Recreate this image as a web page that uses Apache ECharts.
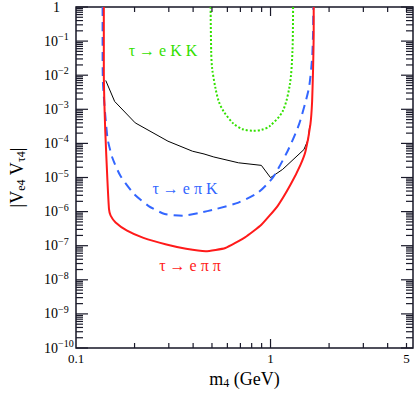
<!DOCTYPE html>
<html><head><meta charset="utf-8">
<script src="https://cdn.jsdelivr.net/npm/echarts@6/dist/echarts.min.js"></script>
<style>html,body{margin:0;padding:0;background:#fff}#c{width:415px;height:399px}</style>
</head><body><div id="c"></div>
<script>
// tau -> e pi pi (red, solid)
const eppM = [0.139,0.139,0.1414,0.1451,0.1478,0.1507,0.1598,0.183,0.2222,0.2915,0.368,0.464,0.586,0.739,0.897,1.089,1.27,1.427,1.513,1.603,1.636,1.655,1.667,1.667];
const eppV = [1,0.0127,2.27e-4,7.9e-6,1.18e-6,7.6e-7,4.8e-7,2.75e-7,1.69e-7,1.08e-7,8.1e-8,6.9e-8,8.6e-8,1.76e-7,4.1e-7,1.48e-6,6.3e-6,2.4e-5,5.9e-5,3.6e-4,1.7e-3,0.016,0.15,1];
// tau -> e pi K (blue, dashed)
const epkM = [0.137,0.137,0.1375,0.1451,0.1538,0.1694,0.1977,0.2353,0.2858,0.3537,0.4294,0.5214,0.684,0.863,1.027,1.223,1.401,1.574,1.636,1.655,1.66];
const epkV = [1,0.078,6.5e-3,1.45e-4,3.8e-5,1.1e-5,3.4e-6,1.48e-6,8.5e-7,7.6e-7,9.1e-7,1.18e-6,1.84e-6,3.6e-6,9.9e-6,5.9e-5,3.6e-4,4.1e-3,0.031,0.187,1];
// tau -> e K K (green, dotted)
const ekkM = [0.492,0.4955,0.501,0.5214,0.542,0.574,0.645,0.72,0.814,0.9,0.989,1.154,1.256,1.296,1.306];
const ekkV = [1,0.0488,0.0159,4.1e-3,1.7e-3,8.7e-4,3.8e-4,2.6e-4,2.35e-4,2.5e-4,3.2e-4,8.7e-4,5.2e-3,0.0488,1];
// black thin line
const blkM = [0.1422,0.158,0.2016,0.297,0.397,0.455,0.511,0.684,0.897,1.0,1.154,1.485,1.561,1.59];
const blkV = [7.0e-3,1.7e-3,4.0e-4,1.16e-4,5.9e-5,4.9e-5,4.0e-5,2.7e-5,2.27e-5,9.9e-6,1.73e-5,6.6e-5,1.3e-4,3.3e-4];
// tick labels
const xLabelVals = [0.1, 1, 5];
const yLabelVals = [1e-10,1e-9,1e-8,1e-7,1e-6,1e-5,1e-4,1e-3,1e-2,1e-1,1];
const xMajorTicks = [1];
const xMinorTicks = [0.2,0.3,0.4,0.5,0.6,0.7,0.8,0.9,2,3,4,5];
const yMajorTicks = yLabelVals;
const yMinorMant = [2,3,4,5,6,7,8,9];
const yDecades = [-10,-9,-8,-7,-6,-5,-4,-3,-2,-1];

const X0 = 0.1, X1 = 5.4, Y0 = 1e-10, Y1 = 1;
const zip = (a,b) => a.map((v,i)=>[v,b[i]]);

const tickData = [];
xMajorTicks.forEach(v=>tickData.push([v, Y0, 0, 9]));
xMinorTicks.forEach(v=>tickData.push([v, Y0, 0, 5]));
yMajorTicks.forEach(v=>tickData.push([X0, v, 1, 12]));
yDecades.forEach(d=>yMinorMant.forEach(m=>tickData.push([X0, m*Math.pow(10,d), 1, 7])));

const serif = '"Liberation Serif","DejaVu Serif",serif';
const chart = echarts.init(document.getElementById('c'), null, {renderer:'svg'});
chart.setOption({
  animation:false,
  backgroundColor:'#fff',
  grid:{left:70, top:5, right:2, bottom:51, show:true, borderColor:'#161626', borderWidth:1.5, backgroundColor:'transparent'},
  xAxis:{type:'log', logBase:10, min:X0, max:X1,
    name:'{m|m}{s|4}{m| (GeV)}', nameLocation:'middle', nameGap:20,
    nameTextStyle:{rich:{m:{fontSize:18, fontFamily:serif, color:'#000'}, s:{fontSize:12, fontFamily:serif, color:'#000', padding:[8,0,0,0]}}},
    axisLine:{show:false}, axisTick:{show:false}, splitLine:{show:false}, minorSplitLine:{show:false},
    axisLabel:{customValues:xLabelVals, margin:4, fontSize:13, fontFamily:serif, color:'#000',
      formatter:v=>String(v)}},
  yAxis:{type:'log', logBase:10, min:Y0, max:Y1,
    name:'{m||V}{s|e4}{m| V}{s|τ4}{m||}', nameLocation:'middle', nameGap:49, nameRotate:90,
    nameTextStyle:{rich:{m:{fontSize:18, fontFamily:serif, color:'#000'}, s:{fontSize:12, fontFamily:serif, color:'#000', padding:[8,0,0,0]}}},
    axisLine:{show:false}, axisTick:{show:false}, splitLine:{show:false},
    axisLabel:{customValues:yLabelVals, align:'left', margin:32, color:'#000',
      formatter:v=>{const e=Math.round(Math.log10(v)); return e===0?'{one|1}':'{b|10}{sup|−'+(-e)+'}';},
      rich:{one:{fontSize:14, fontFamily:serif, color:'#000', padding:[0,0,0,9]},
            b:{fontSize:14, fontFamily:serif, color:'#000'},
            sup:{fontSize:10, fontFamily:serif, color:'#000', padding:[0,0,9,0]}}}},
  series:[
    {type:'custom', coordinateSystem:'cartesian2d', data:tickData, encode:{x:0,y:1}, silent:true, clip:false, z:5,
      renderItem:(params, api)=>{
        const cs = params.coordSys; const kind=api.value(2), len=api.value(3);
        const st = {stroke:'#1a1a2a', lineWidth:1.2};
        if(kind===0){
          const px = api.coord([api.value(0), Y1])[0];
          return {type:'group', children:[
            {type:'line', shape:{x1:px,y1:cs.y+cs.height,x2:px,y2:cs.y+cs.height-len}, style:st},
            {type:'line', shape:{x1:px,y1:cs.y,x2:px,y2:cs.y+len}, style:st}]};
        }
        const py = api.coord([X0, api.value(1)])[1];
        return {type:'group', children:[
          {type:'line', shape:{x1:cs.x,y1:py,x2:cs.x+len,y2:py}, style:st},
          {type:'line', shape:{x1:cs.x+cs.width,y1:py,x2:cs.x+cs.width-len,y2:py}, style:st}]};
      }},
    {type:'line', data:zip(blkM,blkV), showSymbol:false, lineStyle:{color:'#000', width:1}, z:3},
    {type:'line', data:zip(ekkM,ekkV), showSymbol:false, smooth:0.3, lineStyle:{color:'#33e000', width:2, type:[2,2]}, z:3},
    {type:'line', data:zip(epkM,epkV), showSymbol:false, smooth:0.2, lineStyle:{color:'#3366ff', width:2, type:[9,6]}, z:3},
    {type:'line', data:zip(eppM,eppV), showSymbol:false, smooth:0.15, lineStyle:{color:'#ff1a1a', width:2}, z:4}
  ],
  graphic:[
    {type:'text', x:163, y:50, style:{text:'τ → e K K', fill:'#33e000', font:'16px '+serif, textAlign:'center', textVerticalAlign:'middle'}},
    {type:'text', x:185, y:188, style:{text:'τ → e π K', fill:'#3366ff', font:'16px '+serif, textAlign:'center', textVerticalAlign:'middle'}},
    {type:'text', x:190, y:265, style:{text:'τ → e π π', fill:'#ff1a1a', font:'16px '+serif, textAlign:'center', textVerticalAlign:'middle'}}
  ]
});
</script></body></html>
